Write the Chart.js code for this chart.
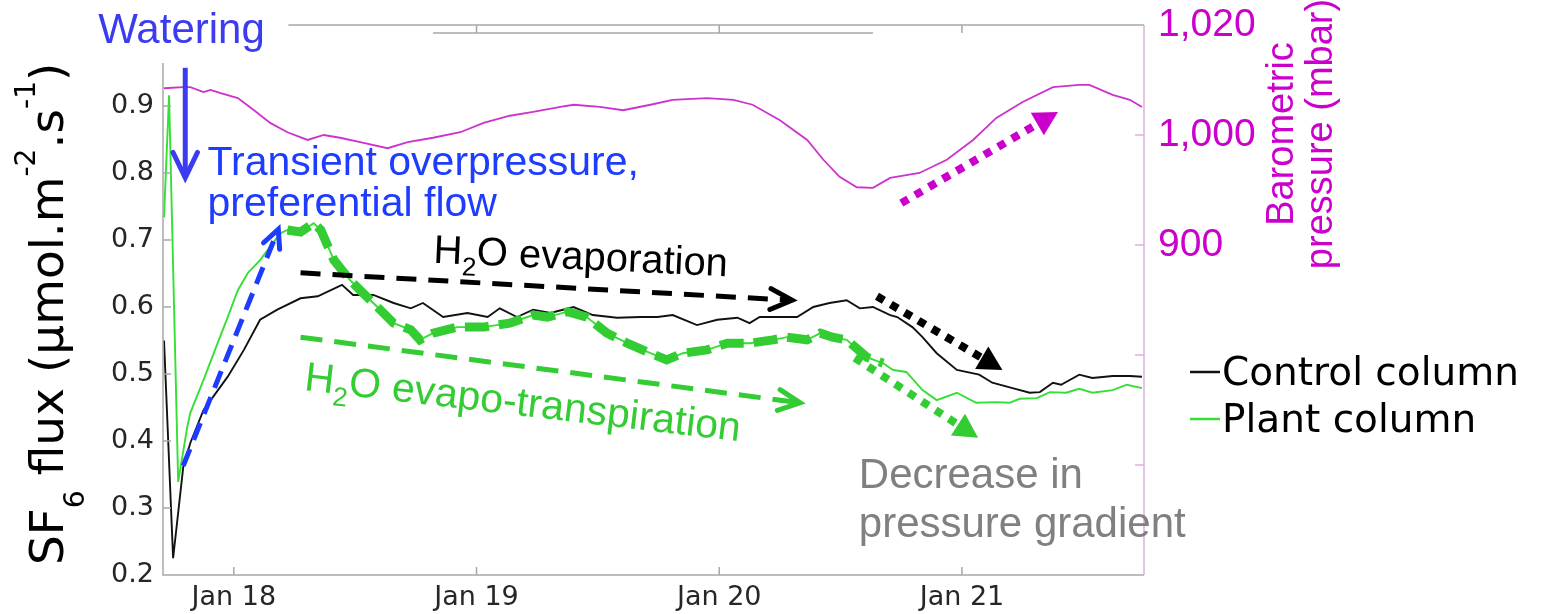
<!DOCTYPE html>
<html>
<head>
<meta charset="utf-8">
<script src="https://cdn.jsdelivr.net/npm/chart.js@4.4.1/dist/chart.umd.min.js"></script>
<style>
  html, body { margin: 0; padding: 0; background: #fff; }
  #wrap { width: 1541px; height: 614px; position: relative; }
</style>
</head>
<body>
<div id="wrap"><canvas id="chart"></canvas></div>
<script>
// time in hours since Jan 17 00:00
const controlTimes = [17.1,18.0,19.0,19.7,21.0,23.4,25.0,26.6,28.3,30.6,32.3,34.7,35.8,37.8,39.8,41.5,42.7,44.7,47.1,49.1,50.3,52.0,53.6,55.3,57.6,59.5,61.9,64.2,65.9,67.4,69.8,71.8,73.8,75.0,76.0,79.7,81.3,82.9,84.6,85.9,87.2,88.9,89.6,91.1,92.1,93.5,95.5,97.7,99.0,101.0,102.7,103.7,105.0,105.8,107.6,108.9,110.9,112.6,113.8];
const controlFlux  = [0.550,0.225,0.361,0.397,0.446,0.496,0.536,0.581,0.596,0.613,0.616,0.633,0.618,0.618,0.606,0.598,0.606,0.585,0.591,0.585,0.598,0.585,0.596,0.591,0.600,0.588,0.584,0.585,0.585,0.588,0.573,0.581,0.584,0.576,0.585,0.585,0.600,0.606,0.610,0.598,0.600,0.588,0.585,0.570,0.555,0.531,0.506,0.499,0.487,0.479,0.472,0.473,0.487,0.484,0.499,0.494,0.497,0.497,0.496];

const plantTimes = [17.1,17.6,18.5,19.4,19.7,21.0,22.4,23.4,24.4,25.4,26.6,27.9,28.6,29.3,30.6,31.9,32.6,33.9,35.5,36.5,38.2,39.8,41.5,42.4,43.7,46.1,48.7,51.3,53.6,55.0,57.0,58.9,60.9,62.9,65.2,66.8,68.4,70.8,72.8,75.0,77.3,78.7,80.7,82.0,83.2,84.6,86.6,88.2,89.2,90.5,92.1,93.5,95.5,97.4,99.4,100.7,101.7,103.4,104.7,106.3,107.6,108.9,110.9,112.3,113.8];
const plantFlux  = [0.734,0.916,0.339,0.421,0.442,0.491,0.546,0.585,0.625,0.651,0.670,0.696,0.710,0.715,0.712,0.725,0.715,0.670,0.640,0.625,0.600,0.576,0.566,0.551,0.561,0.570,0.570,0.576,0.588,0.585,0.593,0.585,0.561,0.546,0.531,0.521,0.531,0.536,0.546,0.546,0.551,0.555,0.551,0.561,0.555,0.551,0.525,0.516,0.506,0.503,0.476,0.461,0.472,0.457,0.458,0.457,0.463,0.464,0.473,0.472,0.478,0.472,0.476,0.484,0.479];

const pressureTimes = [17.1,19.0,19.7,21.0,21.7,22.7,24.4,26.0,27.6,29.3,31.3,32.9,34.5,36.5,39.2,41.2,43.7,46.4,48.7,51.3,53.6,56.3,57.6,60.2,62.5,65.2,67.4,70.8,73.4,75.3,78.0,80.7,82.3,83.9,85.6,87.2,88.9,90.5,91.8,94.5,97.1,99.4,102.0,105.0,107.6,108.6,110.9,112.6,113.8];
const pressureMbar  = [1008.5,1008.7,1008.7,1007.8,1008.2,1007.6,1006.7,1004.5,1002.2,1000.5,999.1,1000.0,999.5,998.7,997.6,998.7,999.5,1000.5,1002.2,1003.5,1004.2,1005.1,1005.5,1005.1,1004.5,1005.5,1006.4,1006.7,1006.4,1005.5,1002.7,999.1,995.5,992.4,990.5,990.4,992.2,992.7,993.1,995.5,999.1,1003.1,1006.0,1008.7,1009.1,1009.1,1007.3,1006.4,1005.1];

const dayTicks  = [24, 48, 72, 96];
const dayLabels = ['Jan 18', 'Jan 19', 'Jan 20', 'Jan 21'];
const fluxTicks = [0.2, 0.3, 0.4, 0.5, 0.6, 0.7, 0.8, 0.9];
const pressureTicks = [920, 940, 960, 980, 1000, 1020];
const pressureTickLabels = ['', '', '', '900', '1,000', '1,020'];

// hand-drawn overlay along the plant curve
const overlayStart = 29, overlayEnd = 89;

const toPoints = (ts, vs) => ts.map((t, i) => ({ x: t, y: vs[i] }));

const SANS  = '"DejaVu Sans"';
const ARIAL = '"Liberation Sans", Arial';

// annotation arrows, in (hours, flux) space
const arrows = [
  { from: [19.2, 0.957], to: [19.2, 0.793], color: '#3b3bf2', width: 5, dash: [],       head: 'open', len: 28 },
  { from: [19.0, 0.363], to: [28.4, 0.716], color: '#1e3cff', width: 5, dash: [18, 10], head: 'open', len: 20 },
  { from: [30.6, 0.651], to: [79.2, 0.610], color: '#000000', width: 5, dash: [20, 12], head: 'open', len: 24 },
  { from: [30.6, 0.555], to: [80.0, 0.457], color: '#33cc33', width: 5, dash: [22, 12], head: 'open', len: 24 },
  { from: [87.6, 0.616], to: [100.0, 0.506], color: '#000000', width: 8, dash: [8, 8], head: 'filled', len: 24 },
  { from: [85.4, 0.524], to: [97.6, 0.405],  color: '#33cc33', width: 8, dash: [8, 8], head: 'filled', len: 24 },
  { from: [90.0, 0.755], to: [105.5, 0.891], color: '#cc00cc', width: 8, dash: [8, 8], head: 'filled', len: 24 },
];

const notes = [
  { parts: [['Watering', 0]], at: [10.6, 0.994], color: '#3b3bf2', size: 42 },
  { parts: [['Transient overpressure,', 0]], at: [21.4, 0.797], color: '#1e3cff', size: 41 },
  { parts: [['preferential flow', 0]], at: [21.4, 0.736], color: '#1e3cff', size: 41 },
  { parts: [['H', 0], ['2', 1], ['O evaporation', 0]], at: [43.7, 0.666], color: '#000000', size: 40, angle: 2.6 },
  { parts: [['H', 0], ['2', 1], ['O evapo-transpiration', 0]], at: [30.9, 0.476], color: '#33cc33', size: 41, angle: 6.7 },
  { parts: [['Decrease in', 0]], at: [85.8, 0.330], color: '#808080', size: 42 },
  { parts: [['pressure gradient', 0]], at: [85.8, 0.257], color: '#808080', size: 42 },
];

function drawRich(ctx, parts, x, y, angle, size, family, color, sub, sup) {
  ctx.save();
  ctx.translate(x, y);
  ctx.rotate(angle);
  ctx.fillStyle = color;
  ctx.textAlign = 'left';
  ctx.textBaseline = 'alphabetic';
  let cx = 0;
  for (const [s, k] of parts) {
    const fs = k ? size * sub.scale : size;
    ctx.font = `${fs}px ${family}`;
    const dy = k === 1 ? size * sub.drop : k === 2 ? -size * sup.rise : 0;
    ctx.fillText(s, cx, dy);
    cx += ctx.measureText(s).width;
  }
  ctx.restore();
}

function drawArrow(ctx, a, b, o) {
  const ang = Math.atan2(b[1] - a[1], b[0] - a[0]);
  const c = Math.cos(ang), s = Math.sin(ang);
  const end = o.head === 'filled' ? [b[0] - c * o.len * 0.9, b[1] - s * o.len * 0.9] : b;
  ctx.save();
  ctx.strokeStyle = o.color;
  ctx.fillStyle = o.color;
  ctx.lineWidth = o.width;
  ctx.lineCap = 'butt';
  ctx.setLineDash(o.dash);
  ctx.beginPath();
  ctx.moveTo(a[0], a[1]);
  ctx.lineTo(end[0], end[1]);
  ctx.stroke();
  ctx.setLineDash([]);
  if (o.head === 'open') {
    const h = 0.45;
    ctx.lineCap = 'round';
    ctx.lineJoin = 'miter';
    ctx.beginPath();
    ctx.moveTo(b[0] - o.len * Math.cos(ang - h), b[1] - o.len * Math.sin(ang - h));
    ctx.lineTo(b[0], b[1]);
    ctx.lineTo(b[0] - o.len * Math.cos(ang + h), b[1] - o.len * Math.sin(ang + h));
    ctx.stroke();
  } else {
    const w = 13;
    const bx = b[0] - c * o.len, by = b[1] - s * o.len;
    ctx.beginPath();
    ctx.moveTo(b[0], b[1]);
    ctx.lineTo(bx - s * w, by + c * w);
    ctx.lineTo(bx + s * w, by - c * w);
    ctx.closePath();
    ctx.fill();
  }
  ctx.restore();
}

const decorations = {
  id: 'decorations',
  afterDraw(chart) {
    const { ctx, chartArea: ca, scales } = chart;
    const X = v => scales.x.getPixelForValue(v);
    const Y = v => scales.y.getPixelForValue(v);
    const P = v => scales.y1.getPixelForValue(v);

    ctx.save();
    // box: left, bottom, top (partly hidden), right (pink)
    ctx.lineWidth = 1.5;
    ctx.strokeStyle = '#a8a8a8';
    ctx.beginPath();
    ctx.moveTo(ca.left, Y(0.964)); ctx.lineTo(ca.left, ca.bottom); ctx.lineTo(ca.right, ca.bottom);
    ctx.moveTo(X(29.4), ca.top); ctx.lineTo(ca.right, ca.top);
    ctx.moveTo(X(43.7), ca.top + 8); ctx.lineTo(X(87.2), ca.top + 8);
    fluxTicks.forEach(v => { ctx.moveTo(ca.left, Y(v)); ctx.lineTo(ca.left + 8, Y(v)); });
    dayTicks.forEach(v => {
      ctx.moveTo(X(v), ca.bottom); ctx.lineTo(X(v), ca.bottom - 8);
      if (v > 29.4) { ctx.moveTo(X(v), ca.top); ctx.lineTo(X(v), ca.top + 8); }
    });
    ctx.stroke();
    ctx.strokeStyle = '#dcb0dc';
    ctx.beginPath();
    ctx.moveTo(ca.right, ca.top); ctx.lineTo(ca.right, ca.bottom);
    pressureTicks.slice(1, -1).forEach(v => { ctx.moveTo(ca.right, P(v)); ctx.lineTo(ca.right - 9, P(v)); });
    ctx.stroke();
    ctx.restore();

    arrows.forEach(a => drawArrow(ctx, [X(a.from[0]), Y(a.from[1])], [X(a.to[0]), Y(a.to[1])], a));

    notes.forEach(n => drawRich(ctx, n.parts, X(n.at[0]), Y(n.at[1]), (n.angle || 0) * Math.PI / 180,
      n.size, ARIAL, n.color, { scale: 0.65, drop: 0.28 }, { rise: 0.5 }));

    // left axis title
    drawRich(ctx, [['SF', 0], ['6', 1], [' flux (µmol.m', 0], ['-2', 2], ['.s', 0], ['-1', 2], [')', 0]],
      63, 565, -Math.PI / 2, 47, SANS, '#000000', { scale: 0.6, drop: 0.45 }, { rise: 0.6 });

    // right axis title
    ctx.save();
    ctx.translate(1283, 134);
    ctx.rotate(-Math.PI / 2);
    ctx.fillStyle = '#cc00cc';
    ctx.font = `38px ${ARIAL}`;
    ctx.textAlign = 'center';
    ctx.textBaseline = 'middle';
    ctx.fillText('Barometric', 0, 0);
    ctx.fillText('pressure (mbar)', 0, 39);
    ctx.restore();

    // legend
    ctx.save();
    ctx.font = `39px ${SANS}`;
    ctx.textBaseline = 'alphabetic';
    chart.data.datasets.filter(d => d.inLegend).forEach((d, i) => {
      const y = 372 + i * 47;
      ctx.strokeStyle = d.borderColor;
      ctx.lineWidth = 2.5;
      ctx.beginPath(); ctx.moveTo(ca.right + 46, y); ctx.lineTo(ca.right + 76, y); ctx.stroke();
      ctx.fillStyle = '#000000';
      ctx.fillText(d.label, ca.right + 78, y + 13);
    });
    ctx.restore();
  }
};

const noPad = s => { s.paddingTop = 0; s.paddingBottom = 0; };

new Chart(document.getElementById('chart'), {
  type: 'line',
  data: {
    datasets: [
      { label: 'Barometric pressure', data: toPoints(pressureTimes, pressureMbar), yAxisID: 'y1',
        borderColor: '#cc33cc', borderWidth: 1.8, pointRadius: 0, order: 4 },
      { label: 'Control column', inLegend: true, data: toPoints(controlTimes, controlFlux), yAxisID: 'y',
        borderColor: '#111111', borderWidth: 1.9, pointRadius: 0, order: 3 },
      { label: 'Plant column', inLegend: true, data: toPoints(plantTimes, plantFlux), yAxisID: 'y',
        borderColor: '#33e033', borderWidth: 1.9, pointRadius: 0, order: 2 },
      { label: 'overlay', data: toPoints(plantTimes, plantFlux).filter(p => p.x >= overlayStart && p.x <= overlayEnd),
        yAxisID: 'y', borderColor: '#33cc33', borderWidth: 9, borderDash: [24, 10], pointRadius: 0, order: 1 },
    ],
  },
  options: {
    responsive: true,
    maintainAspectRatio: false,
    animation: false,
    events: [],
    layout: { padding: { top: 25, left: 0, right: 0, bottom: 0 } },
    plugins: { legend: { display: false }, tooltip: { enabled: false } },
    scales: {
      x: {
        type: 'linear', min: 17, max: 114,
        afterBuildTicks: s => { s.ticks = dayTicks.map(v => ({ value: v })); },
        afterFit: s => { s.height = 39; s.paddingLeft = 0; s.paddingRight = 0; },
        ticks: { callback: (v, i) => dayLabels[i], color: '#262626', font: { family: 'DejaVu Sans', size: 27 }, padding: 7, maxRotation: 0 },
        grid: { display: false, drawTicks: false }, border: { display: false },
      },
      y: {
        position: 'left', min: 0.2, max: 0.2 + 0.1 * 550 / 67,
        afterBuildTicks: s => { s.ticks = fluxTicks.map(v => ({ value: v })); },
        afterFit: s => { s.width = 163; noPad(s); },
        ticks: { callback: v => v.toFixed(1), color: '#262626', font: { family: 'DejaVu Sans', size: 27 }, padding: 9 },
        grid: { display: false, drawTicks: false }, border: { display: false },
      },
      y1: {
        position: 'right', min: 920, max: 1020,
        afterBuildTicks: s => { s.ticks = pressureTicks.map(v => ({ value: v })); },
        afterFit: s => { s.width = 397; noPad(s); },
        ticks: { callback: (v, i) => pressureTickLabels[i], color: '#cc00cc', font: { family: 'Liberation Sans', size: 39 }, padding: 14 },
        grid: { display: false, drawTicks: false }, border: { display: false },
      },
    },
  },
  plugins: [decorations],
});
</script>
</body>
</html>
